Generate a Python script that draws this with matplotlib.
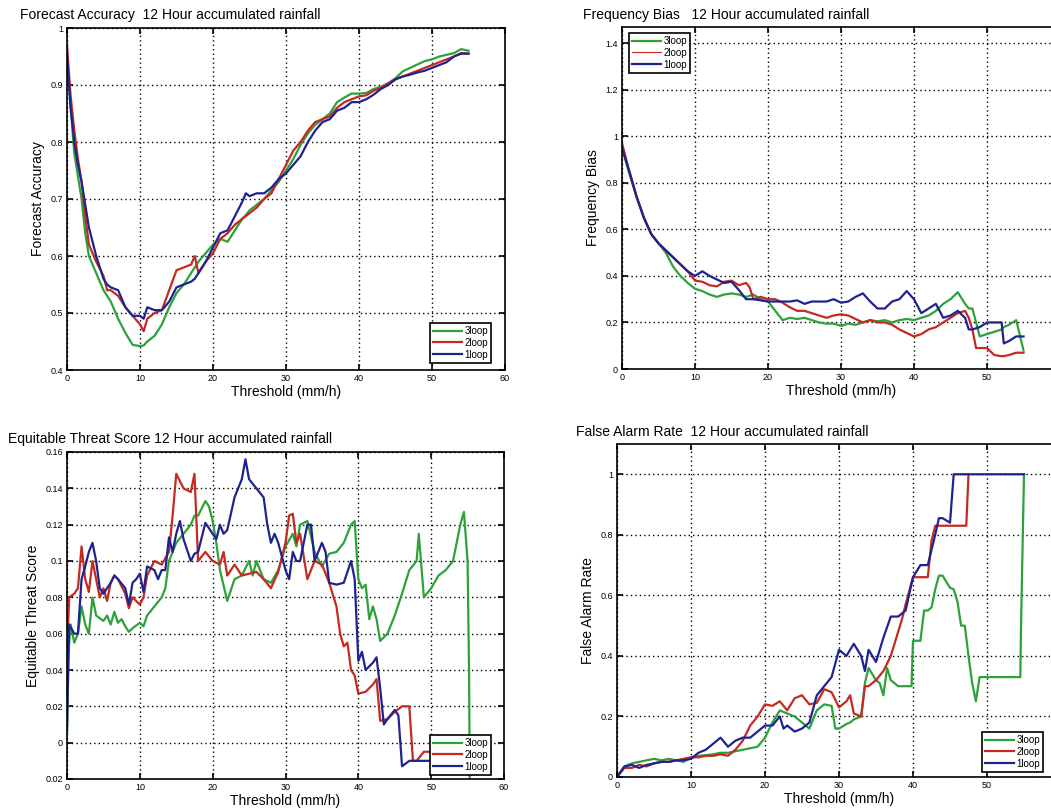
#! /usr/bin/env python3

import numpy as np
from matplotlib import pyplot as plt

plt.rcParams['font.family'] = ['Liberation Sans', 'DejaVu Sans']

W, H = 1051, 808

labels = ['3loop', '2loop', '1loop']
colors = ['#2ea23a', '#c42a22', '#1f2390']

# Forecast Accuracy
fa_x = [0, 0.5, 1, 1.5, 2, 2.5, 3, 4, 5, 5.5, 6, 7, 8, 9, 10, 10.5, 11, 12, 13, 14, 15, 16, 17, 17.5, 18,
        19, 20, 21, 22, 23, 24, 24.5, 25, 26, 27, 28, 29, 30, 31, 32, 33, 34, 35, 36, 37, 38, 39, 40, 41,
        42, 43, 44, 45, 46, 47, 48, 49, 50, 51, 52, 53, 54, 55]
fa_green = [0.95, 0.86, 0.78, 0.74, 0.70, 0.64, 0.60, 0.57, 0.54, 0.53, 0.52, 0.49, 0.465, 0.444, 0.442, 0.443,
            0.45, 0.46, 0.48, 0.51, 0.535, 0.55, 0.57, 0.58, 0.59, 0.605, 0.62, 0.63, 0.625, 0.645, 0.665, 0.672,
            0.68, 0.69, 0.70, 0.715, 0.73, 0.75, 0.77, 0.795, 0.815, 0.83, 0.84, 0.85, 0.87, 0.878, 0.885, 0.885,
            0.886, 0.893, 0.897, 0.903, 0.912, 0.924, 0.93, 0.936, 0.942, 0.945, 0.95, 0.953, 0.956, 0.963, 0.96]
fa_red = [0.97, 0.88, 0.82, 0.77, 0.73, 0.67, 0.62, 0.59, 0.565, 0.54, 0.54, 0.53, 0.51, 0.495, 0.48, 0.468,
          0.49, 0.50, 0.505, 0.54, 0.575, 0.58, 0.585, 0.60, 0.57, 0.59, 0.605, 0.63, 0.64, 0.655, 0.665, 0.67,
          0.675, 0.685, 0.70, 0.71, 0.735, 0.76, 0.785, 0.80, 0.82, 0.835, 0.84, 0.845, 0.86, 0.87, 0.875, 0.88,
          0.882, 0.89, 0.895, 0.903, 0.91, 0.915, 0.92, 0.925, 0.93, 0.935, 0.94, 0.945, 0.95, 0.956, 0.955]
fa_blue = [0.95, 0.86, 0.80, 0.76, 0.73, 0.69, 0.65, 0.60, 0.56, 0.55, 0.545, 0.54, 0.51, 0.495, 0.495, 0.49,
           0.51, 0.505, 0.505, 0.52, 0.545, 0.55, 0.555, 0.56, 0.57, 0.59, 0.615, 0.64, 0.645, 0.67, 0.695, 0.71,
           0.705, 0.71, 0.71, 0.72, 0.735, 0.745, 0.76, 0.775, 0.80, 0.82, 0.835, 0.84, 0.855, 0.86, 0.87, 0.87,
           0.875, 0.883, 0.893, 0.90, 0.91, 0.915, 0.918, 0.922, 0.925, 0.93, 0.935, 0.94, 0.95, 0.955, 0.955]

# Frequency Bias
fb_x = [0, 1, 2, 3, 4, 5, 6, 7, 8, 9, 10, 11, 12, 13, 14, 15, 16, 17, 17.5, 18, 19, 20, 20.5, 21, 22, 23, 24,
        25, 26, 27, 28, 29, 30, 31, 32, 33, 34, 35, 36, 37, 38, 39, 40, 41, 42, 43, 44, 45, 46, 47, 47.5, 48,
        48.5, 49, 50, 51, 52, 52.3, 53, 54, 55]
fb_green = [0.95, 0.84, 0.74, 0.65, 0.58, 0.54, 0.50, 0.44, 0.40, 0.37, 0.345, 0.335, 0.32, 0.31, 0.32, 0.325,
            0.32, 0.31, 0.315, 0.32, 0.30, 0.29, 0.27, 0.25, 0.21, 0.22, 0.215, 0.22, 0.21, 0.20, 0.195, 0.195,
            0.185, 0.195, 0.19, 0.20, 0.21, 0.205, 0.21, 0.20, 0.21, 0.215, 0.21, 0.22, 0.23, 0.25, 0.28, 0.30,
            0.33, 0.28, 0.26, 0.26, 0.20, 0.14, 0.15, 0.16, 0.17, 0.18, 0.19, 0.21, 0.08]
fb_red = [0.97, 0.85, 0.74, 0.65, 0.58, 0.54, 0.51, 0.48, 0.45, 0.42, 0.38, 0.375, 0.36, 0.355, 0.375, 0.38,
          0.36, 0.37, 0.35, 0.30, 0.31, 0.30, 0.30, 0.30, 0.285, 0.265, 0.25, 0.25, 0.24, 0.23, 0.22, 0.23,
          0.235, 0.23, 0.215, 0.20, 0.21, 0.20, 0.20, 0.19, 0.17, 0.155, 0.14, 0.15, 0.17, 0.18, 0.20, 0.22,
          0.24, 0.25, 0.22, 0.17, 0.09, 0.09, 0.09, 0.06, 0.055, 0.055, 0.06, 0.07, 0.07]
fb_blue = [0.95, 0.85, 0.74, 0.65, 0.58, 0.54, 0.51, 0.48, 0.45, 0.42, 0.40, 0.42, 0.40, 0.385, 0.37, 0.375,
           0.34, 0.30, 0.30, 0.30, 0.295, 0.29, 0.29, 0.29, 0.29, 0.29, 0.295, 0.28, 0.29, 0.29, 0.29, 0.30,
           0.285, 0.29, 0.31, 0.325, 0.29, 0.26, 0.26, 0.29, 0.30, 0.335, 0.30, 0.24, 0.26, 0.28, 0.22, 0.23,
           0.25, 0.22, 0.17, 0.17, 0.175, 0.18, 0.20, 0.20, 0.20, 0.11, 0.12, 0.14, 0.14]

# Equitable Threat Score
ets_green_x = [0, 0.2, 0.5, 1, 1.5, 2, 2.5, 3, 3.5, 4, 5, 5.5, 6, 6.5, 7, 7.5, 8, 8.5, 9, 10, 10.5, 11, 12,
               13, 13.5, 14, 15, 16, 17, 17.5, 18, 19, 19.5, 20, 20.5, 21, 22, 23, 24, 25, 25.5, 26, 27, 28,
               29, 30, 31, 31.5, 32, 33, 34, 35, 36, 37, 38, 39, 39.5, 40, 40.5, 41, 41.5, 42, 42.5, 43, 44,
               45, 46, 47, 48, 48.3, 49, 50, 51, 52, 53, 54, 54.5, 55, 55.2, 55.3]
ets_green = [0.005, 0.05, 0.065, 0.055, 0.06, 0.075, 0.065, 0.06, 0.08, 0.07, 0.067, 0.07, 0.065, 0.072,
             0.066, 0.068, 0.064, 0.061, 0.063, 0.066, 0.064, 0.07, 0.075, 0.08, 0.085, 0.10, 0.11, 0.115,
             0.12, 0.125, 0.125, 0.133, 0.13, 0.122, 0.11, 0.095, 0.078, 0.09, 0.092, 0.10, 0.092, 0.10, 0.09,
             0.088, 0.095, 0.108, 0.115, 0.108, 0.12, 0.122, 0.105, 0.097, 0.104, 0.105, 0.11, 0.12, 0.122,
             0.09, 0.085, 0.087, 0.068, 0.075, 0.068, 0.056, 0.06, 0.07, 0.082, 0.095, 0.10, 0.115, 0.08,
             0.085, 0.092, 0.095, 0.10, 0.12, 0.127, 0.10, 0.04, -0.02]
ets_red_x = [0, 0.3, 1, 1.5, 2, 2.5, 3, 3.5, 4, 4.5, 5, 5.5, 6, 6.5, 7, 8, 8.5, 9, 10, 10.5, 11, 12, 13, 14,
             14.5, 15, 16, 17, 17.5, 18, 19, 20, 21, 21.5, 22, 23, 24, 25, 26, 27, 28, 29, 30, 30.5, 31, 31.5,
             32, 33, 34, 35, 36, 37, 37.5, 38, 38.5, 39, 39.5, 40, 41, 42, 42.5, 43, 44, 45, 46, 47, 47.5, 48,
             49, 50]
ets_red = [0.05, 0.08, 0.082, 0.085, 0.108, 0.09, 0.083, 0.10, 0.09, 0.08, 0.085, 0.078, 0.088, 0.092, 0.09,
           0.082, 0.074, 0.08, 0.076, 0.08, 0.092, 0.10, 0.098, 0.105, 0.125, 0.148, 0.14, 0.138, 0.148, 0.10,
           0.105, 0.10, 0.098, 0.105, 0.092, 0.098, 0.092, 0.093, 0.094, 0.09, 0.085, 0.094, 0.11, 0.125,
           0.126, 0.11, 0.115, 0.09, 0.10, 0.098, 0.088, 0.075, 0.06, 0.053, 0.055, 0.04, 0.037, 0.027, 0.028,
           0.032, 0.035, 0.012, 0.013, 0.017, 0.02, 0.02, -0.01, -0.01, -0.005, -0.005]
ets_blue_x = [0, 0.3, 1, 1.5, 2, 2.5, 3, 3.5, 4, 4.5, 5, 5.5, 6, 6.5, 7, 8, 8.5, 9, 9.5, 10, 10.5, 11, 12,
              12.5, 13, 13.5, 14, 14.5, 15, 15.5, 16, 17, 17.5, 18, 19, 20, 20.5, 21, 21.5, 22, 23, 23.5, 24,
              24.5, 25, 26, 27, 27.5, 28, 28.5, 29, 30, 30.5, 31, 31.5, 32, 33, 33.5, 34, 35, 35.5, 36, 37, 38,
              39, 39.5, 40, 40.5, 41, 42, 42.5, 43, 43.5, 44, 45, 45.5, 46, 47, 48, 49, 50]
ets_blue = [0.008, 0.065, 0.06, 0.06, 0.09, 0.097, 0.105, 0.11, 0.10, 0.085, 0.082, 0.085, 0.088, 0.092,
            0.09, 0.085, 0.076, 0.088, 0.09, 0.093, 0.083, 0.097, 0.095, 0.09, 0.095, 0.095, 0.113, 0.105,
            0.115, 0.122, 0.112, 0.10, 0.104, 0.105, 0.121, 0.115, 0.112, 0.12, 0.115, 0.117, 0.135, 0.14,
            0.145, 0.156, 0.145, 0.14, 0.135, 0.12, 0.11, 0.115, 0.11, 0.095, 0.09, 0.105, 0.10, 0.10, 0.12,
            0.12, 0.10, 0.11, 0.105, 0.088, 0.087, 0.088, 0.10, 0.09, 0.045, 0.05, 0.04, 0.044, 0.047, 0.03,
            0.01, 0.013, 0.018, 0.015, -0.013, -0.01, -0.01, -0.01, -0.01]

# False Alarm Rate
far_x = [0, 1, 2, 3, 4, 5, 6, 7, 8, 9, 10, 11, 12, 13, 14, 15, 16, 17, 18, 19, 20, 21, 22, 22.5, 23, 24, 25,
         26, 27, 28, 29, 29.5, 30, 31, 31.5, 32, 33, 33.5, 34, 35, 35.5, 36, 36.5, 37, 38, 38.5, 39, 39.8, 40,
         41, 41.5, 42, 42.5, 43, 43.5, 44, 45, 45.5, 46, 46.5, 47, 47.5, 48, 48.5, 49, 50, 52, 54.5, 54.6, 55]
far_green = [0.0, 0.035, 0.045, 0.05, 0.055, 0.06, 0.055, 0.06, 0.055, 0.05, 0.065, 0.07, 0.072, 0.075, 0.08,
             0.08, 0.085, 0.09, 0.095, 0.10, 0.13, 0.18, 0.22, 0.215, 0.21, 0.20, 0.18, 0.16, 0.22, 0.24,
             0.235, 0.16, 0.16, 0.175, 0.18, 0.19, 0.20, 0.31, 0.36, 0.32, 0.31, 0.27, 0.36, 0.32, 0.30, 0.30,
             0.30, 0.30, 0.45, 0.45, 0.55, 0.55, 0.56, 0.62, 0.665, 0.665, 0.625, 0.62, 0.58, 0.50, 0.50, 0.40,
             0.31, 0.25, 0.33, 0.33, 0.33, 0.33, 0.5, 1.0]
far_red_x = [0, 1, 2, 3, 4, 5, 6, 7, 8, 9, 10, 11, 12, 13, 14, 15, 16, 17, 18, 19, 20, 21, 22, 23, 24, 25,
             26, 27, 28, 29, 30, 31, 31.5, 32, 33, 33.5, 34, 35, 36, 37, 38, 38.5, 39, 40, 41, 42, 42.5, 43,
             44, 46, 47.2, 47.5]
far_red = [0.0, 0.03, 0.03, 0.04, 0.035, 0.045, 0.05, 0.05, 0.055, 0.06, 0.065, 0.065, 0.07, 0.07, 0.075,
           0.07, 0.09, 0.12, 0.17, 0.20, 0.24, 0.235, 0.25, 0.22, 0.26, 0.27, 0.24, 0.245, 0.29, 0.28, 0.23,
           0.25, 0.27, 0.21, 0.20, 0.30, 0.30, 0.32, 0.35, 0.40, 0.48, 0.52, 0.57, 0.66, 0.66, 0.66, 0.78,
           0.83, 0.83, 0.83, 0.83, 1.0]
far_blue_x = [0, 1, 2, 3, 4, 5, 6, 7, 8, 9, 10, 11, 12, 13, 14, 15, 16, 17, 18, 19, 20, 21, 22, 22.5, 23,
              24, 25, 26, 27, 28, 29, 30, 31, 32, 33, 33.5, 34, 35, 36, 37, 38, 39, 40, 41, 42, 43, 43.5, 44,
              45, 45.5, 55]
far_blue = [0.0, 0.035, 0.04, 0.03, 0.04, 0.045, 0.05, 0.05, 0.055, 0.055, 0.06, 0.08, 0.09, 0.11, 0.13,
            0.10, 0.12, 0.13, 0.13, 0.15, 0.17, 0.17, 0.20, 0.16, 0.17, 0.15, 0.16, 0.18, 0.27, 0.30, 0.33,
            0.42, 0.40, 0.44, 0.40, 0.35, 0.42, 0.38, 0.46, 0.53, 0.53, 0.55, 0.66, 0.70, 0.70, 0.80, 0.855,
            0.855, 0.84, 1.0, 1.0]

x_ticks = [0, 10, 20, 30, 40, 50, 60]


def px_rect(x0, y0, x1, y1):
    return [x0 / W, 1 - y1 / H, (x1 - x0) / W, (y1 - y0) / H]


def style(ax, ylim, yticks, yticklabels, ylabel, show_60=True):
    ax.set_xlim(0, 60)
    ax.set_ylim(*ylim)
    ax.set_xticks(x_ticks)
    ax.set_xticklabels([str(t) if (t != 60 or show_60) else '' for t in x_ticks])
    ax.set_yticks(yticks)
    ax.set_yticklabels(yticklabels)
    ax.tick_params(direction='in', length=4, width=1.2, labelsize=6.5, pad=3,
                   top=True, right=True)
    ax.grid(True, color='k', linestyle=(0, (1, 2.2)), linewidth=1.0)
    for s in ax.spines.values():
        s.set_linewidth(1.2)
    ax.set_xlabel('Threshold (mm/h)', fontsize=10, labelpad=1)
    ax.set_ylabel(ylabel, fontsize=10, labelpad=4)


def add_legend(fig, handles, box, thin_red=False):
    x0, y0 = box
    leg = fig.legend(handles, labels, loc='upper left', bbox_to_anchor=(x0 / W, 1 - y0 / H),
                     bbox_transform=fig.transFigure, borderaxespad=0, fontsize=7,
                     handlelength=3.0, handletextpad=0.25, labelspacing=0.2, borderpad=0.3,
                     fancybox=False, framealpha=1, edgecolor='k')
    leg.get_frame().set_linewidth(1.2)
    if thin_red:
        leg.get_lines()[1].set_linewidth(0.8)


fig = plt.figure(figsize=(W / 100, H / 100), dpi=100)

# top left
ax1 = fig.add_axes(px_rect(67, 28, 505, 370))
h1 = []
for y, c in zip([fa_green, fa_red, fa_blue], colors):
    h1 += ax1.plot(fa_x, y, color=c, linewidth=1.6)
style(ax1, (0.4, 1.0), [0.4, 0.5, 0.6, 0.7, 0.8, 0.9, 1.0],
      ['0.4', '0.5', '0.6', '0.7', '0.8', '0.9', '1'], 'Forecast Accuracy')
fig.text(20 / W, 1 - 15 / H, 'Forecast Accuracy  12 Hour accumulated rainfall', fontsize=10, va='center')
add_legend(fig, h1, (430, 323))

# top right
ax2 = fig.add_axes(px_rect(622, 27, 1060, 369))
h2 = []
for y, c in zip([fb_green, fb_red, fb_blue], colors):
    h2 += ax2.plot(fb_x, y, color=c, linewidth=1.6)
style(ax2, (0, 1.47), [0, 0.2, 0.4, 0.6, 0.8, 1.0, 1.2, 1.4],
      ['0', '0.2', '0.4', '0.6', '0.8', '1', '1.2', '1.4'], 'Frequency Bias', show_60=False)
fig.text(583 / W, 1 - 15 / H, 'Frequency Bias   12 Hour accumulated rainfall', fontsize=10, va='center')
add_legend(fig, h2, (629, 33), thin_red=True)

# bottom left
ax3 = fig.add_axes(px_rect(67, 452, 504, 779))
h3 = []
for xs, y, c in zip([ets_green_x, ets_red_x, ets_blue_x], [ets_green, ets_red, ets_blue], colors):
    h3 += ax3.plot(xs, y, color=c, linewidth=1.6)
style(ax3, (-0.02, 0.16), [-0.02, 0, 0.02, 0.04, 0.06, 0.08, 0.1, 0.12, 0.14, 0.16],
      ['0.02', '0', '0.02', '0.04', '0.06', '0.08', '0.1', '0.12', '0.14', '0.16'], 'Equitable Threat Score')
fig.text(8 / W, 1 - 439 / H, 'Equitable Threat Score 12 Hour accumulated rainfall', fontsize=10, va='center')
add_legend(fig, h3, (430, 735))

# bottom right
ax4 = fig.add_axes(px_rect(617, 444, 1061, 777))
h4 = []
for xs, y, c in zip([far_x, far_red_x, far_blue_x], [far_green, far_red, far_blue], colors):
    h4 += ax4.plot(xs, y, color=c, linewidth=1.6)
style(ax4, (0, 1.1), [0, 0.2, 0.4, 0.6, 0.8, 1.0],
      ['0', '0.2', '0.4', '0.6', '0.8', '1'], 'False Alarm Rate', show_60=False)
fig.text(576 / W, 1 - 432 / H, 'False Alarm Rate  12 Hour accumulated rainfall', fontsize=10, va='center')
add_legend(fig, h4, (982, 732))

plt.savefig('out.png', dpi=100)
